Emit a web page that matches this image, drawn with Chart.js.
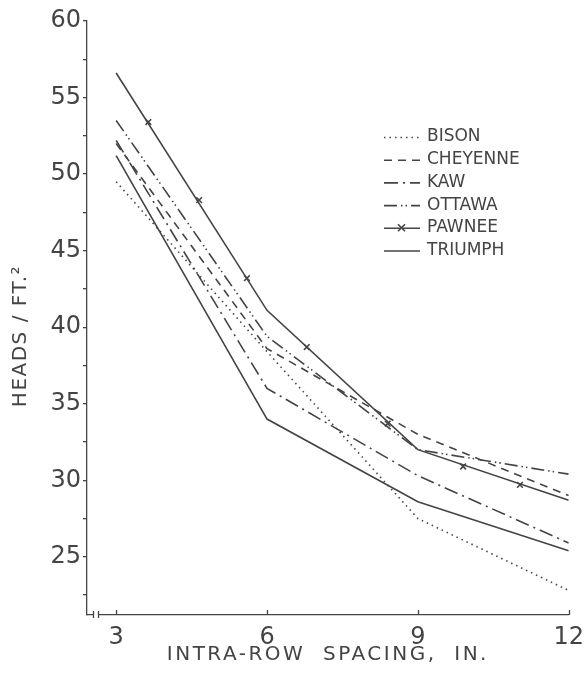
<!DOCTYPE html>
<html>
<head>
<meta charset="utf-8">
<script src="https://cdn.jsdelivr.net/npm/chart.js@4"></script>
<style>
  html, body { margin: 0; padding: 0; background: #fff; }
  #wrap { width: 584px; height: 691px; }
</style>
</head>
<body>
<div id="wrap"><canvas id="lineGraph" width="584" height="691"></canvas></div>
<script>
// intra-row spacing, inches
var spacing = [3, 6, 9, 12];

var seriesNames = ["BISON", "CHEYENNE", "KAW", "OTTAWA", "PAWNEE", "TRIUMPH"];

// heads per sq ft
var bison    = [49.5, 38.4, 27.5, 22.8];
var cheyenne = [52.0, 38.6, 33.0, 29.0];
var kaw      = [52.2, 36.0, 30.3, 25.9];
var ottawa   = [53.5, 39.4, 32.0, 30.4];
var pawnee   = [56.6, 41.1, 32.0, 28.7];
var triumph  = [51.2, 34.0, 28.6, 25.4];

// the x marks drawn along the pawnee line
var pawneeMarkX = [3.64, 4.65, 5.6, 6.79, 8.4, 9.9, 11.03];
var pawneeMarkY = [53.4, 48.3, 43.2, 38.7, 33.7, 30.9, 29.7];

var yTicks = [22.5, 25, 27.5, 30, 32.5, 35, 37.5, 40, 42.5, 45, 47.5, 50, 52.5, 55, 57.5, 60];
var xTicks = [3, 6, 9, 12];

var ink = "#444";
var font = "'DejaVu Sans', sans-serif";

var dashes = {
    BISON: [1.5, 4],
    CHEYENNE: [8, 6],
    KAW: [14, 5, 2, 5],
    OTTAWA: [13, 4, 1.5, 3, 1.5, 4],
    PAWNEE: [],
    TRIUMPH: []
};

function pts(xs, ys) {
    return xs.map(function (x, i) { return {x: x, y: ys[i]}; });
}

var allSeries = [bison, cheyenne, kaw, ottawa, pawnee, triumph];

var datasets = allSeries.map(function (vals, i) {
    return {
        label: seriesNames[i],
        data: pts(spacing, vals),
        borderColor: ink,
        borderWidth: 1.6,
        borderDash: dashes[seriesNames[i]],
        pointRadius: 0,
        fill: false,
        tension: 0
    };
});

datasets.push({
    label: "PAWNEE marks",
    data: pts(pawneeMarkX, pawneeMarkY),
    showLine: false,
    pointStyle: "crossRot",
    pointRadius: 4,
    pointBorderWidth: 1.6,
    pointBorderColor: ink,
    pointBackgroundColor: ink
});

var decorPlugin = {
    id: "decor",
    afterDraw: function (chart) {
        var ctx = chart.ctx;
        var xs = chart.scales.x;
        var bottom = chart.chartArea.bottom, left = chart.chartArea.left;
        ctx.save();
        ctx.strokeStyle = ink;
        ctx.lineWidth = 1.3;

        // x ticks point up into the plot
        xTicks.forEach(function (v) {
            var px = Math.round(xs.getPixelForValue(v)) + 0.5;
            ctx.beginPath();
            ctx.moveTo(px, bottom);
            ctx.lineTo(px, bottom - 5);
            ctx.stroke();
        });

        // axis break near the origin
        ctx.fillStyle = "#fff";
        ctx.fillRect(left + 7, bottom - 2, 4, 4);
        [left + 6.5, left + 11.5].forEach(function (bx) {
            ctx.beginPath();
            ctx.moveTo(bx, bottom - 4);
            ctx.lineTo(bx, bottom + 3);
            ctx.stroke();
        });

        // legend
        ctx.lineWidth = 1.6;
        ctx.font = "17px " + font;
        ctx.fillStyle = ink;
        ctx.textBaseline = "middle";
        seriesNames.forEach(function (name, i) {
            var ly = 137 + i * 22.7;
            ctx.setLineDash(dashes[name]);
            ctx.beginPath();
            ctx.moveTo(384, ly + 0.5);
            ctx.lineTo(420, ly + 0.5);
            ctx.stroke();
            ctx.setLineDash([]);
            if (name === "PAWNEE") {
                ctx.beginPath();
                ctx.moveTo(398, ly - 3.5); ctx.lineTo(405, ly + 3.5);
                ctx.moveTo(405, ly - 3.5); ctx.lineTo(398, ly + 3.5);
                ctx.stroke();
            }
            ctx.fillText(name, 427, ly);
        });

        // axis titles
        ctx.letterSpacing = "2.5px";
        ctx.font = "20px " + font;
        ctx.textAlign = "center";
        ctx.fillText("INTRA-ROW  SPACING,  IN.", (chart.chartArea.left + chart.chartArea.right) / 2, 655);
        ctx.letterSpacing = "1.5px";
        ctx.translate(21, 336);
        ctx.rotate(-Math.PI / 2);
        ctx.fillText("HEADS / FT.\u00B2", 0, 0);
        ctx.restore();
    }
};

var ctx = document.getElementById("lineGraph").getContext("2d");
var lineChart = new Chart(ctx, {
    type: "line",
    data: { datasets: datasets },
    plugins: [decorPlugin],
    options: {
        responsive: false,
        animation: false,
        layout: { padding: { top: 21, right: 15, left: 0, bottom: 0 } },
        plugins: { legend: { display: false }, tooltip: { enabled: false } },
        scales: {
            x: {
                type: "linear",
                min: 2.42,
                max: 12,
                afterBuildTicks: function (s) { s.ticks = xTicks.map(function (v) { return {value: v}; }); },
                afterFit: function (s) { s.height = 76; },
                grid: { display: false },
                border: { color: ink, width: 1.3 },
                ticks: { color: ink, font: { family: font, size: 24 }, padding: 0, maxRotation: 0 }
            },
            y: {
                min: 21.2,
                max: 60,
                afterBuildTicks: function (s) { s.ticks = yTicks.map(function (v) { return {value: v}; }); },
                afterFit: function (s) { s.width = 87; },
                grid: { drawOnChartArea: false, drawTicks: true, tickLength: 4, color: ink, lineWidth: 1.3 },
                border: { color: ink, width: 1.3 },
                ticks: {
                    color: ink,
                    font: { family: font, size: 24 },
                    padding: 2,
                    callback: function (v) { return v % 5 === 0 ? v : ""; }
                }
            }
        }
    }
});
</script>
</body>
</html>
